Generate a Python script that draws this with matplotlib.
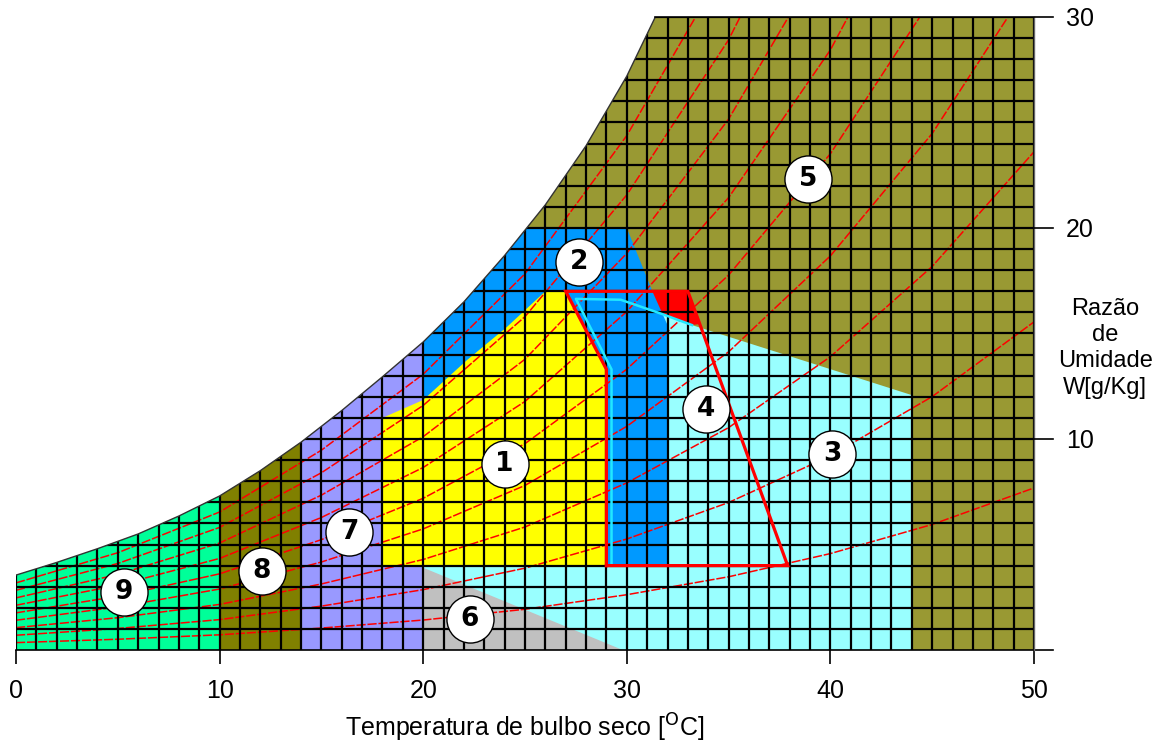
import matplotlib
matplotlib.use("Agg")
import matplotlib.pyplot as plt
from matplotlib.patches import Polygon
from matplotlib import font_manager as fm
import numpy as np

# ---------------- data ----------------
# saturation curve (dry-bulb temperature degC, humidity ratio g/kg)
sat_T = [0, 2, 4, 6, 8, 10, 12, 14, 16, 18, 20, 22, 24, 26, 28, 30, 31.4]
sat_W = [3.55, 4.15, 4.8, 5.5, 6.35, 7.3, 8.5, 9.85, 11.35, 12.95, 14.6, 16.5, 18.7, 21.1, 23.9, 27.2, 30.0]

# relative humidity curves (10 % ... 90 %) sampled every 5 degC
rh_T = [0, 5, 10, 15, 20, 25, 30, 35, 40, 45, 50]
rh10 = [0.35, 0.51, 0.72, 1.04, 1.42, 1.93, 2.62, 3.47, 4.57, 5.95, 7.68]
rh20 = [0.70, 1.02, 1.44, 2.08, 2.86, 3.88, 5.26, 6.99, 9.20, 12.01, 15.55]
rh30 = [1.06, 1.53, 2.16, 3.13, 4.29, 5.83, 7.92, 10.54, 13.90, 18.18, 23.61]
rh40 = [1.41, 2.04, 2.89, 4.17, 5.74, 7.80, 10.60, 14.13, 18.68, 24.48, 31.9]
rh50 = [1.76, 2.55, 3.61, 5.23, 7.19, 9.78, 13.31, 17.77, 23.52, 30.9, np.nan]
rh60 = [2.12, 3.07, 4.34, 6.28, 8.65, 11.78, 16.04, 21.44, 28.44, 37.5, np.nan]
rh70 = [2.47, 3.58, 5.07, 7.34, 10.11, 13.78, 18.80, 25.16, 33.4, np.nan, np.nan]
rh80 = [2.83, 4.10, 5.81, 8.40, 11.59, 15.80, 21.57, 28.92, 38.5, np.nan, np.nan]
rh90 = [3.18, 4.61, 6.54, 9.47, 13.07, 17.83, 24.38, 32.7, np.nan, np.nan, np.nan]

# bioclimatic zones (T, W)
zone2_T = [20, 20, 30, 31.3, 32, 32]
zone2_W = [4, 20, 20, 16.9, 15.4, 4]
zone1_T = [18, 29, 29, 27, 26, 24.1, 22.15, 20, 18]
zone1_W = [4, 4, 13.3, 17, 17, 15.3, 13.74, 11.85, 11.0]
zone3_T = [20, 44, 44, 33.2, 31.8, 29.7, 27.5, 29.25, 29.25, 20]
zone3_W = [0, 0, 12.08, 15.4, 15.9, 16.6, 16.64, 13.3, 4, 4]
zone4_T = [29, 29, 27, 33, 37.9]
zone4_W = [4, 13.3, 17, 17, 4]
zone4top_T = [27, 33, 33.6, 33.2, 31.8, 29.7, 27.5]
zone4top_W = [17, 17, 15.45, 15.4, 15.9, 16.6, 16.64]
zone6_T = [20, 20, 29.8]
zone6_W = [0, 3.9, 0]
zone7_T = [14, 20]
zone8_T = [10, 14]
zone9_T = [0, 10]
cyan_T = [29.25, 29.25, 27.5, 29.7, 31.8, 33.2]
cyan_W = [4, 13.3, 16.64, 16.6, 15.9, 15.4]

labels = ["1", "2", "3", "4", "5", "6", "7", "8", "9"]
label_T = [24.0, 27.65, 40.1, 33.9, 38.9, 22.3, 16.36, 12.08, 5.3]
label_W = [8.8, 18.4, 9.3, 11.4, 22.3, 1.45, 5.6, 3.75, 2.75]

xticks = [0, 10, 20, 30, 40, 50]
yticks = [10, 20, 30]

# ---------------- styling ----------------
C5 = "#999933"
C2 = "#0099FF"
C1 = "#FFFF00"
C3 = "#99FFFF"
C6 = "#C0C0C0"
C7 = "#9999FF"
C8 = "#808000"
C9 = "#00FF99"
CR = "#FF0000"
CC = "#22E8FF"

names = {f.name for f in fm.fontManager.ttflist}
FONT = "Liberation Sans" if "Liberation Sans" in names else "DejaVu Sans"

W_PX, H_PX = 1159, 745
fig = plt.figure(figsize=(W_PX / 100, H_PX / 100), dpi=100)
x0, x50 = 16, 1034
y0, y30 = 650, 17
ax = fig.add_axes([x0 / W_PX, (H_PX - y0) / H_PX, (x50 - x0) / W_PX, (y0 - y30) / H_PX])
ax.set_xlim(0, 50)
ax.set_ylim(0, 30)
for s in ax.spines.values():
    s.set_visible(False)

# envelope (area under the saturation curve)
env_T = list(sat_T) + [50, 50, 0]
env_W = list(sat_W) + [30, 0, 0]
env = Polygon(np.column_stack([env_T, env_W]), closed=True, facecolor=C5,
              edgecolor="none", zorder=1)
ax.add_patch(env)


def fill(T, W, color, z):
    p = Polygon(np.column_stack([T, W]), closed=True, facecolor=color,
                edgecolor="none", zorder=z)
    ax.add_patch(p)
    p.set_clip_path(env)
    return p


def band(Tr, color, z):
    return fill([Tr[0], Tr[1], Tr[1], Tr[0]], [0, 0, 30, 30], color, z)


fill(zone4top_T, zone4top_W, CR, 1.5)
fill(zone3_T, zone3_W, C3, 2)
fill(zone2_T, zone2_W, C2, 3)
band(zone7_T, C7, 4)
fill(zone1_T, zone1_W, C1, 5)
fill(zone6_T, zone6_W, C6, 5)
band(zone8_T, C8, 4)
band(zone9_T, C9, 4)

# relative humidity curves
for W in [rh10, rh20, rh30, rh40, rh50, rh60, rh70, rh80, rh90]:
    ln, = ax.plot(rh_T, W, color=CR, lw=1.1, ls=(0, (6, 1.2)), zorder=6)
    ln.set_clip_path(env)

# grid (1 degC x 1 g/kg)
for t in range(0, 51):
    ln, = ax.plot([t, t], [0, 30], color="black", lw=1.6, zorder=7, solid_capstyle="butt")
    ln.set_clip_path(env)
for w in range(1, 31):
    ln, = ax.plot([0, 50], [w, w], color="black", lw=1.6, zorder=7, solid_capstyle="butt")
    ln.set_clip_path(env)

# saturation curve edge
ax.plot(sat_T, sat_W, color="#333333", lw=1.0, zorder=8)

# zone 4 outline and cyan outline
ax.plot(zone4_T + [zone4_T[0]], zone4_W + [zone4_W[0]], color=CR, lw=2.3, zorder=10,
        solid_joinstyle="miter")
ax.plot(cyan_T, cyan_W, color=CC, lw=1.8, zorder=9)

# axes lines
ax.plot([0, 50.95], [0, 0], color="black", lw=1.2, zorder=11, clip_on=False)
ax.plot([50, 50], [0, 30], color="#666666", lw=1.0, zorder=11, clip_on=False)
for w in yticks:
    ax.plot([31.4 if w == 30 else 50, 50.95], [w, w], color="black", lw=1.2, zorder=11,
            clip_on=False)

# ticks / labels
ax.set_xticks(xticks)
ax.set_xticklabels([str(v) for v in xticks], fontsize=18, fontfamily=FONT)
ax.tick_params(axis="x", length=10, width=1.2, pad=11, color="black")
ax.yaxis.tick_right()
ax.set_yticks(yticks)
ax.set_yticklabels([str(v) for v in yticks], fontsize=18, fontfamily=FONT)
ax.tick_params(axis="y", length=0, pad=23)
ax.set_xlabel("Temperatura de bulbo seco [$^{\\mathrm{O}}$C]", fontsize=18,
              fontfamily=FONT, labelpad=6)
ax.text(53.5, 14.3, "Razão\nde\nUmidade\nW[g/Kg]", ha="center", va="center",
        fontsize=17, fontfamily=FONT, linespacing=1.25, clip_on=False)

# zone number markers
ax.scatter(label_T, label_W, s=1150, facecolor="white", edgecolor="black",
           linewidth=1.0, zorder=12)
for lab, t, w in zip(labels, label_T, label_W):
    ax.text(t, w, lab, ha="center", va="center", fontsize=19, fontweight="bold",
            fontfamily="DejaVu Sans", zorder=13)

fig.savefig("out.png", dpi=100)
